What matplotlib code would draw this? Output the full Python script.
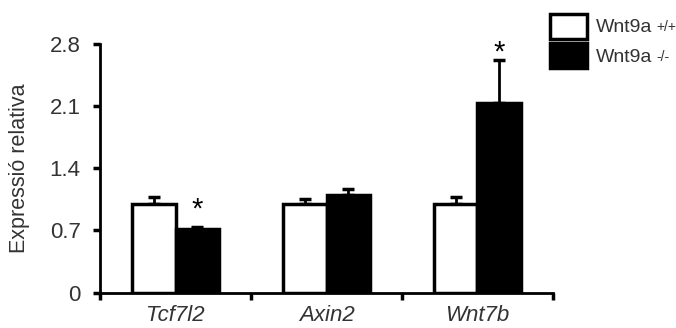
import matplotlib
matplotlib.use('Agg')
import matplotlib.pyplot as plt
from matplotlib.patches import Patch
import numpy as np

plt.rcParams['font.family'] = ['Liberation Sans', 'DejaVu Sans']

genes = ['Tcf7l2', 'Axin2', 'Wnt7b']
wt = [1.00, 1.00, 1.00]
wt_err = [0.08, 0.05, 0.08]
ko = [0.71, 1.10, 2.13]
ko_err = [0.03, 0.07, 0.49]
stars = ['*', '', '*']
star_y = [0.93, 0, 2.70]
yticks = [0, 0.7, 1.4, 2.1, 2.8]
ytick_labels = ['0', '0.7', '1.4', '2.1', '2.8']
legend_names = ['Wnt9a', 'Wnt9a']
legend_sup = ['+/+', '-/-']

txt = '#333333'
x = np.arange(len(genes))
w = 0.29

fig = plt.figure(figsize=(6.76, 3.28), dpi=100)
ax = fig.add_axes([0.148, 0.108, 0.670, 0.759])

ax.bar(x - w / 2, wt, w, color='white', edgecolor='black', linewidth=2.5, zorder=2)
ax.bar(x + w / 2, ko, w, color='black', edgecolor='black', linewidth=2.5, zorder=2)
ax.errorbar(x - w / 2, wt, yerr=[np.zeros(3), wt_err], fmt='none', ecolor='black',
            elinewidth=2, capsize=4, capthick=2.5, zorder=1)
ax.errorbar(x + w / 2, ko, yerr=[np.zeros(3), ko_err], fmt='none', ecolor='black',
            elinewidth=2, capsize=4, capthick=2.5, zorder=1)

for xi, s, sy in zip(x, stars, star_y):
    if s:
        ax.text(xi + w / 2, sy, s, ha='center', va='center', fontsize=21, color='black')

ax.set_xlim(-0.5, 2.5)
ax.set_ylim(0, 2.8)
ax.set_yticks(yticks)
ax.set_yticklabels(ytick_labels, fontsize=16, color=txt)
ax.set_xticks(np.arange(-0.5, 3, 1))
ax.set_xticklabels([])
ax.tick_params(axis='both', direction='out', length=5, width=2.5)
ax.tick_params(axis='y', pad=9)
for xi, g in zip(x, genes):
    ax.text(xi, -0.05, g, ha='center', va='top', fontsize=16, style='italic',
            color=txt, transform=ax.get_xaxis_transform())
ax.set_ylabel('Expressió relativa', fontsize=15.5, color=txt, labelpad=14)

for s in ['top', 'right']:
    ax.spines[s].set_visible(False)
for s in ['left', 'bottom']:
    ax.spines[s].set_linewidth(2)

handles = [Patch(facecolor='white', edgecolor='black', linewidth=2.5),
           Patch(facecolor='black', edgecolor='black', linewidth=2.5)]
leg = fig.legend(handles, legend_names, loc='upper left',
                 bbox_to_anchor=(0.793, 1.0), frameon=False, fontsize=14,
                 handlelength=1.9, handleheight=1.6, labelspacing=0.25,
                 handletextpad=0.5, borderpad=0.2, labelcolor=txt)

fig.canvas.draw()
inv = fig.transFigure.inverted()
for t, sup in zip(leg.get_texts(), legend_sup):
    bb = t.get_window_extent()
    x1, y1 = inv.transform((bb.x1 + 4, bb.y1 - 1))
    fig.text(x1, y1, sup, fontsize=10, color=txt, ha='left', va='top')

fig.savefig('out.png', dpi=100)
